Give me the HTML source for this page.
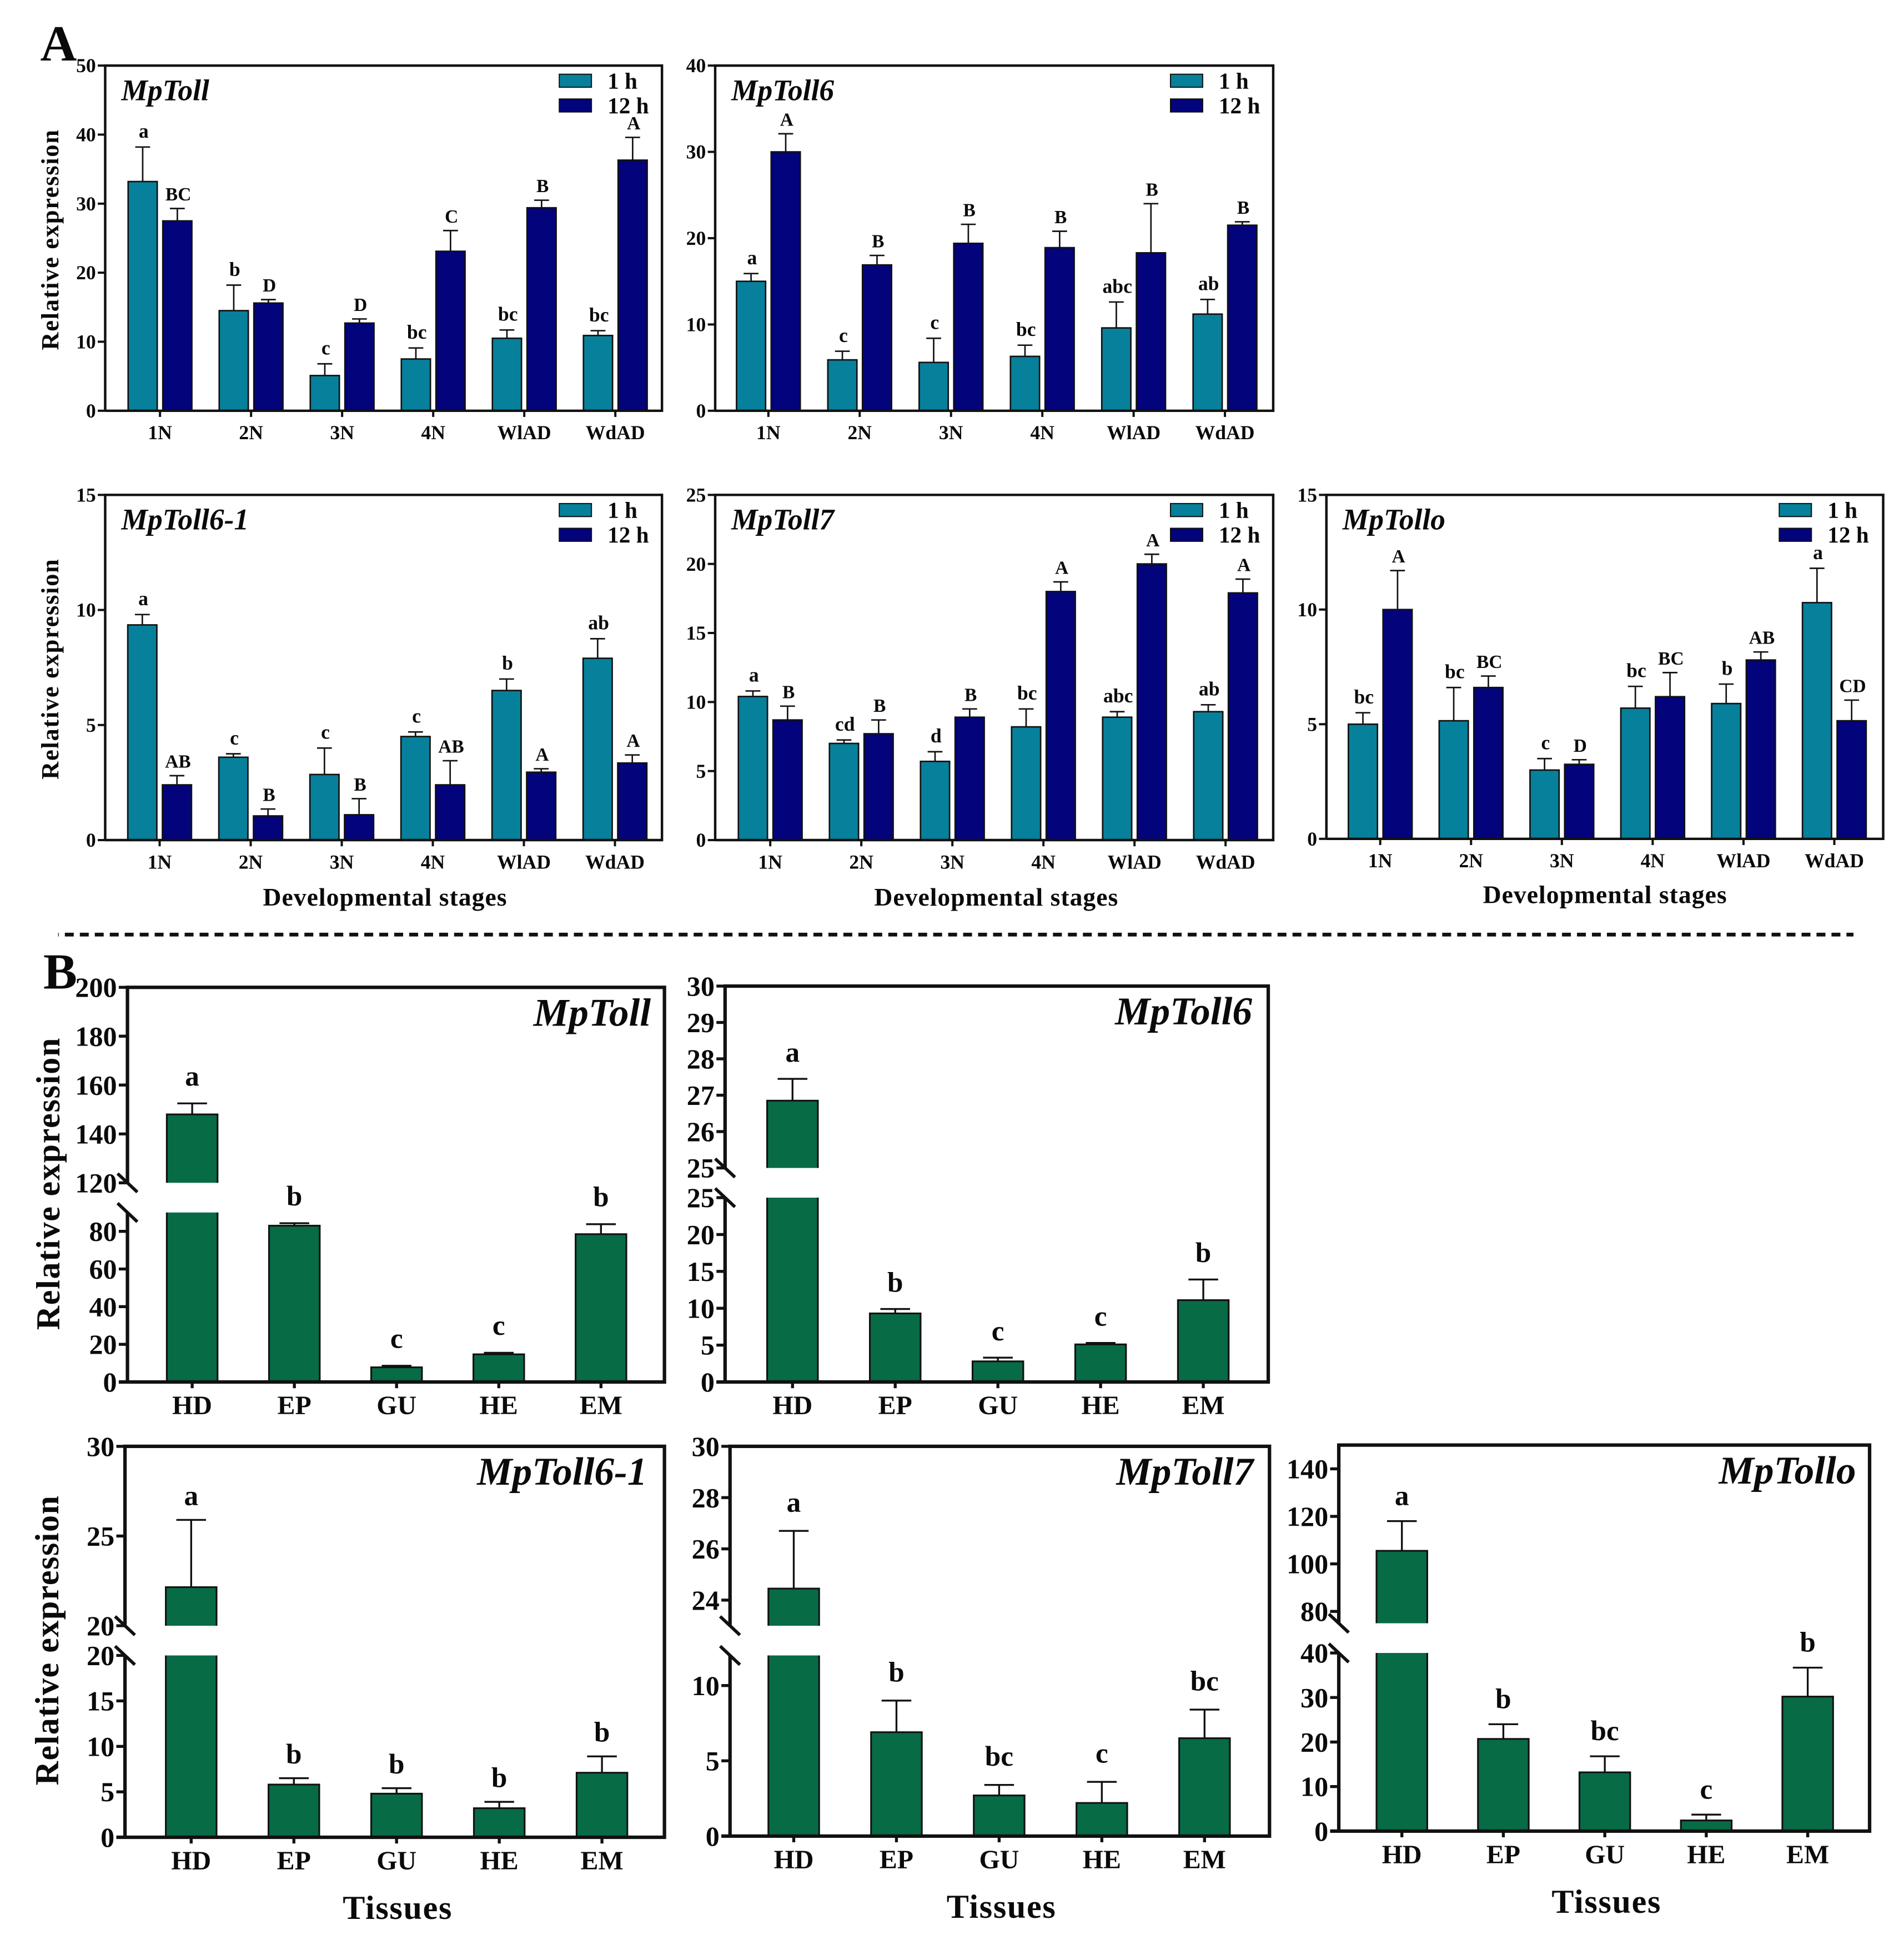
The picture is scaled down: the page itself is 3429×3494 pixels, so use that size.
<!DOCTYPE html>
<html lang="en">
<head>
<meta charset="utf-8">
<title>Relative expression of MpToll genes</title>
<style>
html,body{margin:0;padding:0;background:#fff}
svg{display:block}
text{font-family:"Liberation Serif",serif;font-weight:bold;fill:#0a0a0a}
.it{font-style:italic}
</style>
</head>
<body>
<svg id="fig" xmlns="http://www.w3.org/2000/svg" width="3429" height="3494" viewBox="0 0 1538.8 1568">
<rect x="0" y="0" width="1539" height="1568" fill="#fff"/>
<text x="32.5" y="49" font-size="41">A</text>
<text x="35" y="799" font-size="41">B</text>
<line x1="47" y1="755.4" x2="1498" y2="755.4" stroke="#111" stroke-width="3" stroke-dasharray="7.2 4.9" stroke-dashoffset="6.7"/>
<text transform="translate(47,194) rotate(-90)" text-anchor="middle" font-size="20" textLength="178" lengthAdjust="spacing">Relative expression</text>
<text transform="translate(47,541) rotate(-90)" text-anchor="middle" font-size="20" textLength="178" lengthAdjust="spacing">Relative expression</text>
<text x="311" y="732" text-anchor="middle" font-size="20.5" textLength="197" lengthAdjust="spacing">Developmental stages</text>
<text x="805" y="732" text-anchor="middle" font-size="20.5" textLength="197" lengthAdjust="spacing">Developmental stages</text>
<text x="1297" y="730" text-anchor="middle" font-size="20.5" textLength="197" lengthAdjust="spacing">Developmental stages</text>
<text transform="translate(48,957) rotate(-90)" text-anchor="middle" font-size="27" textLength="236" lengthAdjust="spacing">Relative expression</text>
<text transform="translate(47,1326) rotate(-90)" text-anchor="middle" font-size="27" textLength="234" lengthAdjust="spacing">Relative expression</text>
<text x="321" y="1551" text-anchor="middle" font-size="27" textLength="88" lengthAdjust="spacing">Tissues</text>
<text x="809" y="1550" text-anchor="middle" font-size="27" textLength="88" lengthAdjust="spacing">Tissues</text>
<text x="1298" y="1546" text-anchor="middle" font-size="27" textLength="88" lengthAdjust="spacing">Tissues</text>
<g id="plots"></g>
</svg>
<script>
/* ---------- Section A data: developmental stages ---------- */
const stageCats = ['1N','2N','3N','4N','WlAD','WdAD'];
const seriesLabels = ['1 h','12 h'];

const a1Ticks = [0,10,20,30,40,50];
const a1Early = [33.2,14.5,5.1,7.5,10.5,10.9];
const a1EarlyErr = [38.2,18.2,6.8,9.1,11.7,11.6];
const a1EarlyLetters = ['a','b','c','bc','bc','bc'];
const a1Late = [27.5,15.6,12.7,23.1,29.4,36.3];
const a1LateErr = [29.3,16.1,13.3,26.1,30.5,39.6];
const a1LateLetters = ['BC','D','D','C','B','A'];

const a2Ticks = [0,10,20,30,40];
const a2Early = [15,5.9,5.6,6.3,9.6,11.2];
const a2EarlyErr = [15.9,6.9,8.4,7.6,12.6,12.9];
const a2EarlyLetters = ['a','c','c','bc','abc','ab'];
const a2Late = [30,16.9,19.4,18.9,18.3,21.5];
const a2LateErr = [32.1,18,21.6,20.8,24,21.9];
const a2LateLetters = ['A','B','B','B','B','B'];

const a3Ticks = [0,5,10,15];
const a3Early = [9.35,3.6,2.85,4.5,6.5,7.9];
const a3EarlyErr = [9.8,3.75,4,4.7,7,8.75];
const a3EarlyLetters = ['a','c','c','c','b','ab'];
const a3Late = [2.4,1.05,1.1,2.4,2.95,3.35];
const a3LateErr = [2.8,1.35,1.8,3.45,3.1,3.7];
const a3LateLetters = ['AB','B','B','AB','A','A'];

const a4Ticks = [0,5,10,15,20,25];
const a4Early = [10.4,7,5.7,8.2,8.9,9.3];
const a4EarlyErr = [10.8,7.25,6.4,9.5,9.3,9.8];
const a4EarlyLetters = ['a','cd','d','bc','abc','ab'];
const a4Late = [8.7,7.7,8.9,18,20,17.9];
const a4LateErr = [9.7,8.7,9.5,18.7,20.7,18.9];
const a4LateLetters = ['B','B','B','A','A','A'];

const a5Ticks = [0,5,10,15];
const a5Early = [5,5.15,3,5.7,5.9,10.3];
const a5EarlyErr = [5.5,6.6,3.5,6.65,6.75,11.8];
const a5EarlyLetters = ['bc','bc','c','bc','b','a'];
const a5Late = [10,6.6,3.25,6.2,7.8,5.15];
const a5LateErr = [11.7,7.1,3.45,7.25,8.15,6.05];
const a5LateLetters = ['A','BC','D','BC','AB','CD'];

/* ---------- Section B data: tissues ---------- */
const tissueCats = ['HD','EP','GU','HE','EM'];

const b1LowTicks = [0,20,40,60,80];
const b1HighTicks = [120,140,160,180,200];
const b1Values = [148,83,7.8,14.7,78.5];
const b1Err = [152.5,84.3,8.6,15.5,83.8];
const b1Letters = ['a','b','c','c','b'];

const b2LowTicks = [0,5,10,15,20,25];
const b2HighTicks = [25,26,27,28,29,30];
const b2Values = [26.85,9.3,2.8,5.1,11.1];
const b2Err = [27.45,9.9,3.3,5.3,13.9];
const b2Letters = ['a','b','c','c','b'];

const b3LowTicks = [0,5,10,15,20];
const b3HighTicks = [20,25,30];
const b3Values = [22.15,5.8,4.8,3.2,7.1];
const b3Err = [25.9,6.5,5.4,3.9,8.9];
const b3Letters = ['a','b','b','b','b'];

const b4LowTicks = [0,5,10];
const b4HighTicks = [24,26,28,30];
const b4Values = [24.45,6.9,2.7,2.2,6.5];
const b4Err = [26.7,9,3.4,3.6,8.4];
const b4Letters = ['a','b','bc','c','bc'];

const b5LowTicks = [0,10,20,30,40];
const b5HighTicks = [80,100,120,140];
const b5Values = [105.5,20.7,13.2,2.4,30.2];
const b5Err = [118,24,16.8,3.7,36.7];
const b5Letters = ['a','b','bc','c','b'];

/* ---------- Drawing ---------- */
const NS = 'http://www.w3.org/2000/svg';
const root = document.getElementById('plots');
const INK = '#111';
const TEAL = '#07809b';
const NAVY = '#03037c';
const GREEN = '#076b46';

function mk(parent, tag, attrs, txt) {
  const el = document.createElementNS(NS, tag);
  for (const k in attrs) el.setAttribute(k, attrs[k]);
  if (txt !== undefined) el.textContent = txt;
  parent.appendChild(el);
  return el;
}

function scale(dMin, dMax, yBottom, yTop) {
  return v => yBottom + (v - dMin) * (yTop - yBottom) / (dMax - dMin);
}

function groupEl(parent, name) {
  const g = document.createElementNS(NS, 'g');
  
  
  parent.appendChild(g);
  return g;
}

function drawTitle(g, box, title, tx, ty, fs, anchor) {
  const t = mk(g, 'text', {x:tx, y:ty, 'font-size':fs, class:'it', 'text-anchor':anchor}, title);
  
  
}

function drawBar(g, x, w, y0, y1, fill, sw) {
  const r = mk(g, 'rect', {x:x, y:Math.min(y0,y1), width:w, height:Math.abs(y0-y1), fill:fill, stroke:INK, 'stroke-width':sw});
  
  
  return r;
}

function drawErr(g, cx, yTop, yVal, cap, sw) {
  const s = mk(g, 'line', {x1:cx, x2:cx, y1:yTop, y2:yVal, stroke:INK, 'stroke-width':sw});
  
  
  const c = mk(g, 'line', {x1:cx-cap, x2:cx+cap, y1:yTop, y2:yTop, stroke:INK, 'stroke-width':sw});
  
  
}

function drawLetter(g, cx, y, s, fs) {
  const t = mk(g, 'text', {x:cx, y:y, 'font-size':fs, 'text-anchor':'middle'}, s);
  
  
}

function drawTick(g, x, y, len, label, fs, sw) {
  const l = mk(g, 'line', {x1:x-len, x2:x, y1:y, y2:y, stroke:INK, 'stroke-width':sw});
  
  
  const t = mk(g, 'text', {x:x-len-1.5, y:y+fs*0.34, 'font-size':fs, 'text-anchor':'end'}, label);
  
  
}

function drawXTick(g, x, y, len, label, labelY, fs, sw) {
  const l = mk(g, 'line', {x1:x, x2:x, y1:y, y2:y+len, stroke:INK, 'stroke-width':sw});
  
  
  const t = mk(g, 'text', {x:x, y:labelY, 'font-size':fs, 'text-anchor':'middle'}, label);
  
  
}

function drawStagePanel(name, box, title, tickVals, early, earlyErr, earlyL, late, lateErr, lateL) {
  const g = groupEl(root, name);
  const y = scale(0, tickVals[tickVals.length-1], box.b, box.t);
  const bw = 23.5, off = 14, step = box.step;
  stageCats.forEach((cat, i) => {
    const c = box.c0 + i * step;
    [[early,earlyErr,earlyL,TEAL,-off,16,7.5],[late,lateErr,lateL,NAVY,off,15,6.5]].forEach(s => {
      const cx = c + s[4];
      drawErr(g, cx, y(s[1][i]), y(s[0][i]), 6, 1.2);
      drawBar(g, cx - bw/2, bw, box.b, y(s[0][i]), s[3], 1.2);
      drawLetter(g, cx + 0.8, y(s[1][i]) - s[6], s[2][i], s[5]);
    });
    drawXTick(g, c, box.b, 5, cat, box.b + 23, 16, 1.8);
  });
  tickVals.forEach(v => drawTick(g, box.l, y(v), 6, String(v), 16, 1.8));
  const f = mk(g, 'path', {d:`M${box.l} ${box.b}V${box.t}H${box.r}V${box.b}H${box.l}`, fill:'none', stroke:INK, 'stroke-width':2});
  
  
  drawTitle(g, box, title, box.l + 13, box.t + 28, 24, 'start');
  seriesLabels.forEach((lab, i) => {
    const ly = box.t + 7 + i * 20;
    const sw = mk(g, 'rect', {x:box.lg, y:ly, width:26, height:10.5, fill:i ? NAVY : TEAL, stroke:INK, 'stroke-width':0.9});
    
    
    const t = mk(g, 'text', {x:box.lg + 39, y:ly + 11.5, 'font-size':18.5}, lab);
    
    
  });
}

function drawTissuePanel(name, box, title, lowTicks, highTicks, vals, errs, letters) {
  const g = groupEl(root, name);
  const yl = scale(0, box.lowMax, box.b, box.lowTop);
  const yh = scale(box.highMin, box.highMax, box.highBottom, box.t);
  const yy = v => v > box.lowMax ? yh(v) : yl(v);
  const bw = 41;
  tissueCats.forEach((cat, i) => {
    const c = box.c0 + i * box.step;
    const v = vals[i];
    const et = yy(errs[i]);
    drawErr(g, c, et, yy(v), 12, 1.5);
    if (v > box.lowMax) {
      const r1 = mk(g, 'rect', {x:c-bw/2, y:yl(box.lowMax), width:bw, height:box.b-yl(box.lowMax), fill:GREEN});
      
      
      const r2 = mk(g, 'rect', {x:c-bw/2, y:yh(v), width:bw, height:box.highBottom-yh(v), fill:GREEN});
      
      
      const o = mk(g, 'path', {d:`M${c-bw/2} ${box.b}V${yl(box.lowMax)}M${c+bw/2} ${box.b}V${yl(box.lowMax)}M${c-bw/2} ${box.highBottom}V${yh(v)}H${c+bw/2}V${box.highBottom}`, fill:'none', stroke:INK, 'stroke-width':1.4});
      
      
    } else {
      drawBar(g, c-bw/2, bw, box.b, yl(v), GREEN, 1.4);
    }
    drawLetter(g, c, et - 15.5 + box.ly, letters[i], 23);
    drawXTick(g, c, box.b, 5, cat, box.b + box.xlab, 21.5, 2.4);
  });
  lowTicks.forEach(v => drawTick(g, box.l, yl(v), 7, String(v), 22.5, 2.4));
  highTicks.forEach(v => drawTick(g, box.l, yh(v), 7, String(v), 22.5, 2.4));
  const gapHi = box.highBottom, gapLo = box.lowTop;
  const f = mk(g, 'path', {d:`M${box.l} ${box.b}V${gapLo}M${box.l} ${gapHi}V${box.t}H${box.r}V${box.b}H${box.l-7}`, fill:'none', stroke:INK, 'stroke-width':2.8});
  
  
  [gapHi, gapLo].forEach(yb => {
    const s = mk(g, 'line', {x1:box.l-8, y1:yb-7.5, x2:box.l+8, y2:yb+7.5, stroke:INK, 'stroke-width':2.6});
    
    
  });
  drawTitle(g, box, title, box.tx, box.t + 31, 32, 'end');
}

drawStagePanel('panel-a1-mptoll', {l:85,r:535,t:53,b:332,c0:129.3,step:73.6,lg:452}, 'MpToll', a1Ticks, a1Early, a1EarlyErr, a1EarlyLetters, a1Late, a1LateErr, a1LateLetters);
drawStagePanel('panel-a2-mptoll6', {l:578,r:1029,t:53,b:332,c0:621,step:73.8,lg:946}, 'MpToll6', a2Ticks, a2Early, a2EarlyErr, a2EarlyLetters, a2Late, a2LateErr, a2LateLetters);
drawStagePanel('panel-a3-mptoll6-1', {l:85,r:535,t:400,b:679,c0:129,step:73.6,lg:452}, 'MpToll6-1', a3Ticks, a3Early, a3EarlyErr, a3EarlyLetters, a3Late, a3LateErr, a3LateLetters);
drawStagePanel('panel-a4-mptoll7', {l:578,r:1029,t:400,b:679,c0:622.5,step:73.6,lg:946}, 'MpToll7', a4Ticks, a4Early, a4EarlyErr, a4EarlyLetters, a4Late, a4LateErr, a4LateLetters);
drawStagePanel('panel-a5-mptollo', {l:1072,r:1522,t:400,b:678,c0:1115.5,step:73.4,lg:1438}, 'MpTollo', a5Ticks, a5Early, a5EarlyErr, a5EarlyLetters, a5Late, a5LateErr, a5LateLetters);

drawTissuePanel('panel-b1-mptoll', {l:103,r:537,t:798,b:1117,c0:155.3,step:82.6,lowMax:90,lowTop:980,highMin:120,highMax:200,highBottom:956,tx:526,xlab:26,ly:1}, 'MpToll', b1LowTicks, b1HighTicks, b1Values, b1Err, b1Letters);
drawTissuePanel('panel-b2-mptoll6', {l:586,r:1025,t:797,b:1117,c0:640.5,step:83,lowMax:25,lowTop:968,highMin:25,highMax:30,highBottom:944,tx:1012,xlab:26,ly:1.5}, 'MpToll6', b2LowTicks, b2HighTicks, b2Values, b2Err, b2Letters);
drawTissuePanel('panel-b3-mptoll6-1', {l:101,r:537,t:1169,b:1485,c0:154.5,step:83,lowMax:20,lowTop:1338,highMin:20,highMax:30,highBottom:1314,tx:523,xlab:26,ly:3.5}, 'MpToll6-1', b3LowTicks, b3HighTicks, b3Values, b3Err, b3Letters);
drawTissuePanel('panel-b4-mptoll7', {l:590,r:1026,t:1169,b:1484,c0:641.5,step:83,lowMax:12,lowTop:1338,highMin:23,highMax:30,highBottom:1314,tx:1013,xlab:26,ly:0}, 'MpToll7', b4LowTicks, b4HighTicks, b4Values, b4Err, b4Letters);
drawTissuePanel('panel-b5-mptollo', {l:1082,r:1511,t:1168,b:1480,c0:1133,step:82,lowMax:40,lowTop:1336,highMin:75,highMax:150,highBottom:1312,tx:1500,xlab:26,ly:2.5}, 'MpTollo', b5LowTicks, b5HighTicks, b5Values, b5Err, b5Letters);
</script>
</body>
</html>
